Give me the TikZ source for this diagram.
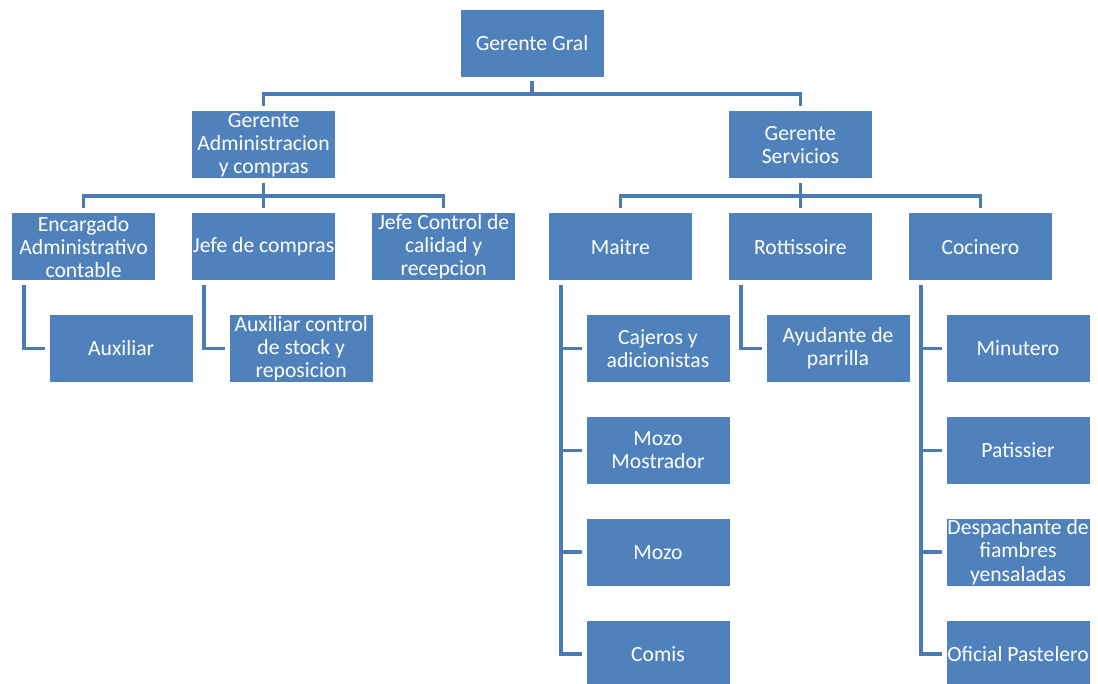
\documentclass[tikz,border=0pt]{standalone}
\usepackage{fontspec}
\setmainfont{Carlito}
\usepackage{xcolor}
\usepackage{tikz}
\usetikzlibrary{positioning}
\definecolor{ogBlue}{HTML}{4F81BD}
\definecolor{ogLine}{HTML}{4A7BB7}
\tikzset{
  link/.style={draw=ogLine, line width=2.6pt, shorten <=0.1cm, shorten >=0.1cm},
  puesto/.style={
    rectangle,
    draw=white,
    line width=0.6pt,
    fill=ogBlue,
    text=white,
    minimum width=3.6cm,
    minimum height=1.7cm,
    inner sep=0pt,
    align=center,
    font=\fontsize{15.4}{16.4}\selectfont
  }
}

\begin{document}
\begin{tikzpicture}[node distance=0.825cm and 0.88cm]
\useasboundingbox (0,0) rectangle (27.45,-17.1);

\node[puesto] (gg) at (13.3,-1.075) {Gerente Gral};
\node[puesto, below=of gg, xshift=-6.71cm] (gac) {Gerente\\ Administracion\\ y compras};
\node[puesto, below=of gg, xshift=6.71cm] (gs) {Gerente\\ Servicios};

% administracion
\node[puesto, below=of gac] (jc) {Jefe de compras};
\node[puesto, left=of jc] (enc) {Encargado\\ Administrativo\\ contable};
\node[puesto, right=of jc] (jcc) {Jefe Control de\\ calidad y\\ recepcion};
\node[puesto, below=of enc, xshift=0.94cm] (aux) {Auxiliar};
\node[puesto, below=of jc, xshift=0.94cm] (acs) {Auxiliar control\\ de stock y\\ reposicion};

% servicios
\node[puesto, below=of gs] (rot) {Rottissoire};
\node[puesto, left=of rot] (mai) {Maitre};
\node[puesto, right=of rot] (coc) {Cocinero};

\node[puesto, below=of mai, xshift=0.94cm] (caj) {Cajeros y\\ adicionistas};
\node[puesto, below=of caj] (mmo) {Mozo\\ Mostrador};
\node[puesto, below=of mmo] (moz) {Mozo};
\node[puesto, below=of moz] (com) {Comis};

\node[puesto, below=of rot, xshift=0.94cm] (ayu) {Ayudante de\\ parrilla};

\node[puesto, below=of coc, xshift=0.94cm] (min) {Minutero};
\node[puesto, below=of min] (pat) {Patissier};
\node[puesto, below=of pat] (des) {Despachante de\\ fiambres\\ yensaladas};
\node[puesto, below=of des] (ofp) {Oficial Pastelero};

\draw[link] (gg.south) -- ++(0,-0.42) -| (gac.north);
\draw[link] (gg.south) -- ++(0,-0.42) -| (gs.north);

\foreach \c in {enc,jc,jcc}
  \draw[link] (gac.south) -- ++(0,-0.42) -| (\c.north);
\foreach \c in {mai,rot,coc}
  \draw[link] (gs.south) -- ++(0,-0.42) -| (\c.north);

\draw[link] ([xshift=0.325cm]enc.south west) |- (aux.west);
\draw[link] ([xshift=0.325cm]jc.south west) |- (acs.west);
\foreach \c in {caj,mmo,moz,com}
  \draw[link] ([xshift=0.325cm]mai.south west) |- (\c.west);
\draw[link] ([xshift=0.325cm]rot.south west) |- (ayu.west);
\foreach \c in {min,pat,des,ofp}
  \draw[link] ([xshift=0.325cm]coc.south west) |- (\c.west);

\end{tikzpicture}
\end{document}
